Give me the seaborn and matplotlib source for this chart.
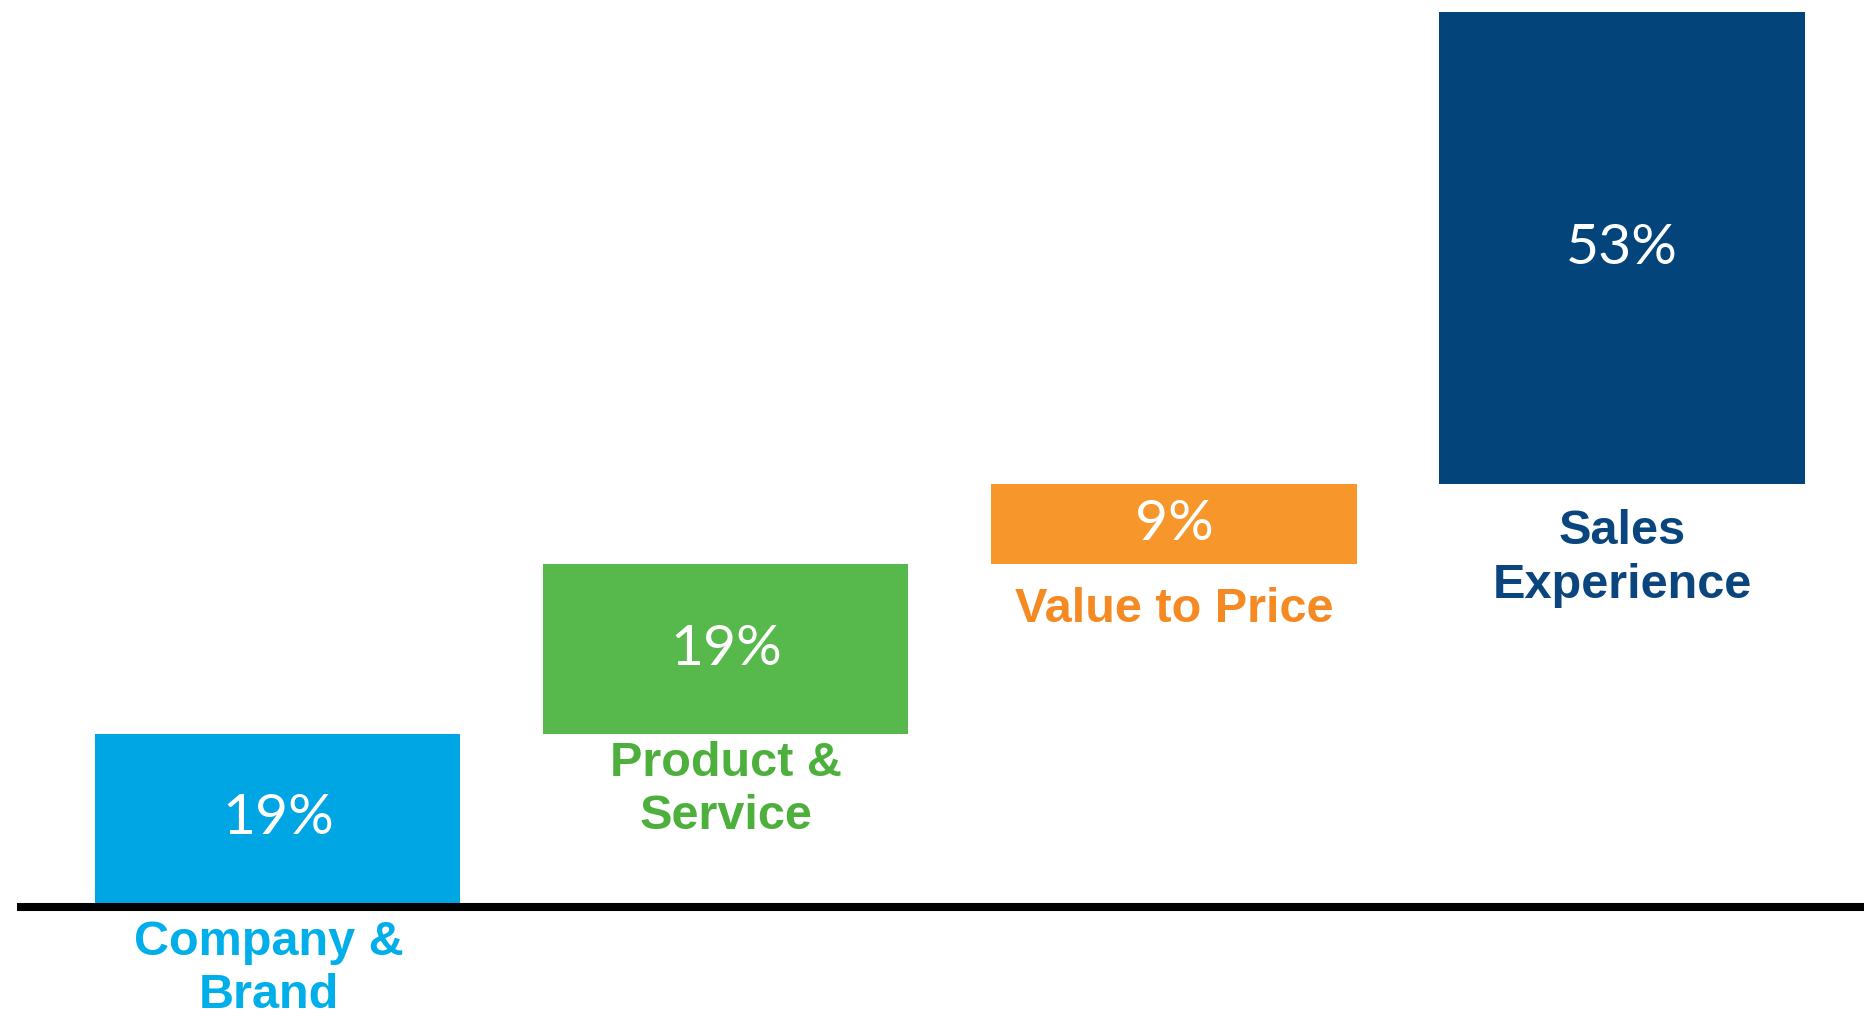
import numpy as np
import pandas as pd
import matplotlib
matplotlib.use("Agg")
import matplotlib.pyplot as plt
from matplotlib.transforms import offset_copy
import seaborn as sns

# Driver shares (percent) building up to 100%
categories = ["Company &\nBrand", "Product &\nService", "Value to Price", "Sales\nExperience"]
values = [19, 19, 9, 53]
value_labels = ["19%", "19%", "9%", "53%"]
bar_colors = ["#00A5E3", "#57B84B", "#F7962A", "#03457A"]
text_colors = ["#00AEEA", "#4DAF3C", "#F58A22", "#0B457D"]

starts = np.concatenate([[0], np.cumsum(values)[:-1]])
df = pd.DataFrame({"category": categories, "value": values, "start": starts})

sns.set_theme(style="white")
fig = plt.figure(figsize=(18.64, 10.21), dpi=100)
ax = fig.add_axes([0, 0, 1, 1])

sns.barplot(data=df, x="category", y="value", bottom=df["start"].to_numpy(),
            width=0.815, color=bar_colors[0], linewidth=0, ax=ax, zorder=2)
for patch, c in zip(ax.patches, bar_colors):
    patch.set_facecolor(c)

ax.set_xlim(-0.62, 3.54)
ax.set_ylim(-13.24, 101.35)
ax.axis("off")

# Baseline rule, sitting just under the bars
base_tr = offset_copy(ax.get_yaxis_transform(), fig=fig, y=-4, units="dots")
ax.plot([17 / 1864, 1], [0, 0], transform=base_tr, color="black",
        linewidth=5.8, solid_capstyle="butt", zorder=3)

# Value labels centred in each bar
for i, (s, v, lab) in enumerate(zip(starts, values, value_labels)):
    ax.text(i, s + v / 2, lab, ha="center", va="center", color="white",
            fontsize=41, fontweight="normal", family=["Lato", "DejaVu Sans"], zorder=4)

# Category names under each bar (under the baseline for the first one)
label_gaps = [-12, -5, -16, -18]
for i, (s, name, tc, dy) in enumerate(zip(starts, categories, text_colors, label_gaps)):
    tr = offset_copy(ax.transData, fig=fig, y=dy, units="points")
    ax.text(i - 0.02 if i == 0 else i, s, name, ha="center", va="top", color=tc,
            fontsize=35, fontweight="bold", family=["Liberation Sans", "DejaVu Sans"],
            linespacing=1.25, transform=tr, zorder=4)

fig.savefig("out.png", dpi=100, facecolor="white")
